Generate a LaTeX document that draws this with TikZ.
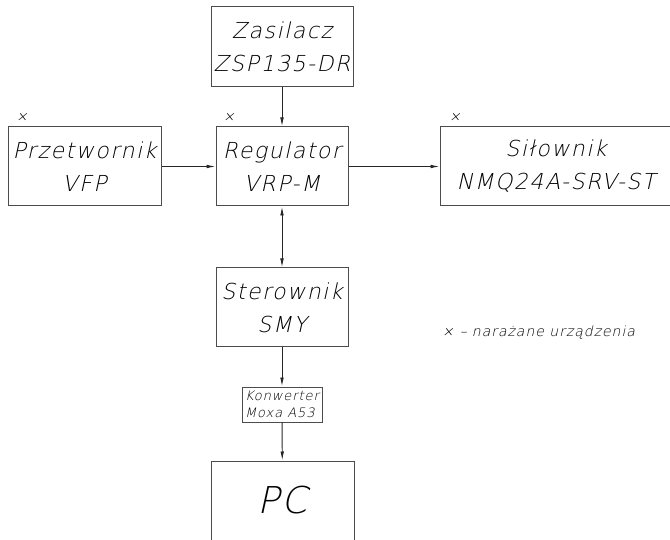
\documentclass[tikz,border=0pt]{standalone}
\usepackage{fontspec}
\newfontfamily\cadfont[FakeSlant=0.22,LetterSpace=7]{DejaVu Sans ExtraLight}
\usetikzlibrary{arrows.meta}

\begin{document}
\begin{tikzpicture}[x=1pt,y=-1pt,
    blok/.style={draw=black!70,line width=1pt,align=center,inner sep=0pt,
      font=\cadfont\fontsize{22}{33}\selectfont},
    strz/.style={-{Latex[length=9pt,width=3.6pt]},black!85,line width=0.9pt},
    krzyz/.style={font=\cadfont\fontsize{14}{14}\selectfont,inner sep=0pt}]
          \useasboundingbox (0,0) rectangle (670,540);
          \node[blok,minimum width=142pt,minimum height=80pt] (zas) at (282,47) {Zasilacz\\ZSP135-DR};
          \node[blok,minimum width=153pt,minimum height=79pt] (prz) at (84.5,166.5) {Przetwornik\\VFP};
          \node[blok,minimum width=132pt,minimum height=79pt] (reg) at (282,166.5) {Regulator\\VRP-M};
          \node[blok,minimum width=232pt,minimum height=79pt,text width=232pt] (sil) at (556,166.5) {Siłownik\\NMQ24A-SRV-ST};
          \node[blok,minimum width=132pt,minimum height=79pt] (ste) at (282,307.5) {Sterownik\\SMY};
          \node[blok,minimum width=80pt,minimum height=35pt,align=left,
            font=\cadfont\fontsize{13}{17}\selectfont] (kon) at (282,404.5) {Konwerter\\Moxa A53};
          \node[blok,minimum width=143pt,minimum height=110pt,
            font=\cadfont\fontsize{37}{37}\selectfont] (pc) at (282.5,516) {\raisebox{3pt}[0pt][0pt]{PC}};
          \node[krzyz] (x1) at (22,117) {×};
          \node[krzyz] (x2) at (229,117) {×};
          \node[krzyz] (x3) at (455,117) {×};
          \node[krzyz,anchor=west] (leg) at (442,333) {×\hspace{6pt}–\hspace{5pt}narażane urządzenia};
          \draw[strz] (zas) -- (reg);
          \draw[strz] (prz) -- (reg);
          \draw[strz] (reg) -- (sil);
          \draw[strz,{Latex[length=9pt,width=3.6pt]}-{Latex[length=9pt,width=3.6pt]}] (reg) -- (ste);
          \draw[strz] (ste) -- (kon);
          \draw[strz] (kon) -- (pc);
        \end{tikzpicture}
\end{document}
